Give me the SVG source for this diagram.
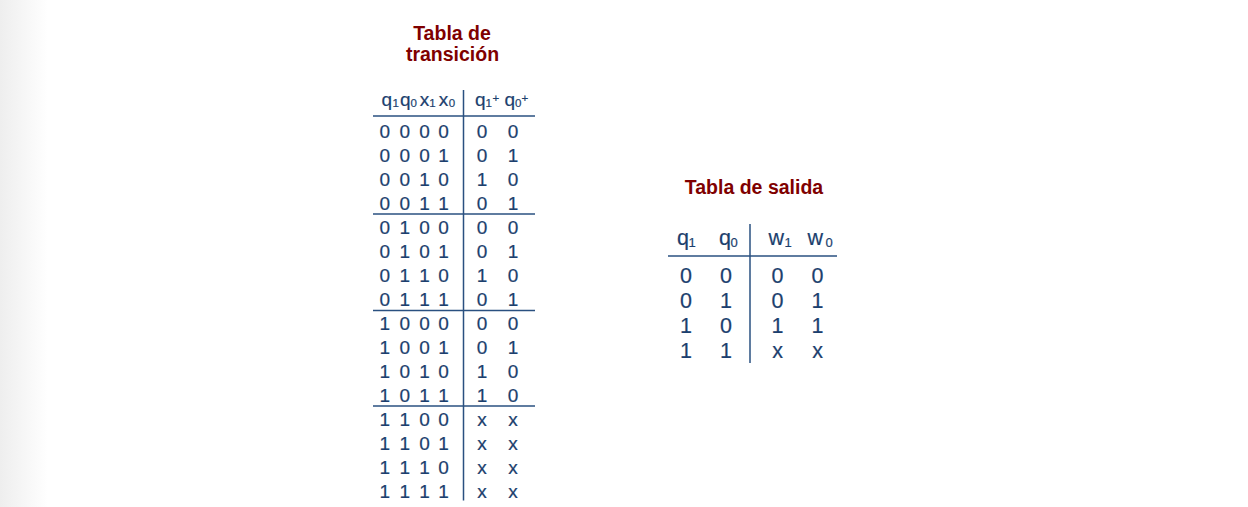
<svg xmlns="http://www.w3.org/2000/svg" width="1248" height="507" viewBox="0 0 1248 507">
<defs>
<linearGradient id="edge" x1="0" y1="0" x2="1" y2="0">
<stop offset="0" stop-color="#eeeeee"/>
<stop offset="1" stop-color="#ffffff"/>
</linearGradient>
</defs>
<style>
.t{font-family:"Liberation Sans",Arial,sans-serif;fill:#1c3f6e;stroke:#1c3f6e;stroke-width:0.2}
.d{font-size:19px;text-anchor:middle}
.h{font-size:19px}
.s{font-size:11.5px}
.d2{font-size:21.5px;text-anchor:middle}
.h2{font-size:21.5px}
.s2{font-size:13px}
.title{font-family:"Liberation Sans",Arial,sans-serif;font-weight:bold;font-size:19.5px;fill:#7f0000;text-anchor:middle}
.ln{stroke:#2a5080;stroke-width:1.5;fill:none}
</style>
<rect width="1248" height="507" fill="#ffffff"/>
<rect width="48" height="507" fill="url(#edge)"/>

<g id="transition-table">
<text class="title" x="452" y="40">Tabla de</text>
<text class="title" x="452.5" y="60.5">transición</text>
<g id="transition-header" class="t">
<text class="h" x="381.5" y="105.5">q</text><text class="s" x="392.4" y="107">1</text>
<text class="h" x="400" y="105.5">q</text><text class="s" x="410.6" y="107">0</text>
<text class="h" x="419.8" y="105.5">x</text><text class="s" x="429.3" y="107">1</text>
<text class="h" x="438.8" y="105.5">x</text><text class="s" x="448.8" y="107">0</text>
<text class="h" x="474.9" y="105.5">q</text><text class="s" x="485.6" y="107">1</text><text class="s" x="492.6" y="101.8">+</text>
<text class="h" x="504.4" y="105.5">q</text><text class="s" x="515" y="107">0</text><text class="s" x="521.6" y="101.8">+</text>
</g>
<g id="transition-rows" class="t d">
<text y="137.5"><tspan x="384.7">0</tspan><tspan x="404.7">0</tspan><tspan x="424.5">0</tspan><tspan x="443.5">0</tspan><tspan x="482">0</tspan><tspan x="513">0</tspan></text>
<text y="161.5"><tspan x="384.7">0</tspan><tspan x="404.7">0</tspan><tspan x="424.5">0</tspan><tspan x="443.5">1</tspan><tspan x="482">0</tspan><tspan x="513">1</tspan></text>
<text y="185.5"><tspan x="384.7">0</tspan><tspan x="404.7">0</tspan><tspan x="424.5">1</tspan><tspan x="443.5">0</tspan><tspan x="482">1</tspan><tspan x="513">0</tspan></text>
<text y="209.5"><tspan x="384.7">0</tspan><tspan x="404.7">0</tspan><tspan x="424.5">1</tspan><tspan x="443.5">1</tspan><tspan x="482">0</tspan><tspan x="513">1</tspan></text>
<text y="233.5"><tspan x="384.7">0</tspan><tspan x="404.7">1</tspan><tspan x="424.5">0</tspan><tspan x="443.5">0</tspan><tspan x="482">0</tspan><tspan x="513">0</tspan></text>
<text y="257.5"><tspan x="384.7">0</tspan><tspan x="404.7">1</tspan><tspan x="424.5">0</tspan><tspan x="443.5">1</tspan><tspan x="482">0</tspan><tspan x="513">1</tspan></text>
<text y="281.5"><tspan x="384.7">0</tspan><tspan x="404.7">1</tspan><tspan x="424.5">1</tspan><tspan x="443.5">0</tspan><tspan x="482">1</tspan><tspan x="513">0</tspan></text>
<text y="305.5"><tspan x="384.7">0</tspan><tspan x="404.7">1</tspan><tspan x="424.5">1</tspan><tspan x="443.5">1</tspan><tspan x="482">0</tspan><tspan x="513">1</tspan></text>
<text y="329.5"><tspan x="384.7">1</tspan><tspan x="404.7">0</tspan><tspan x="424.5">0</tspan><tspan x="443.5">0</tspan><tspan x="482">0</tspan><tspan x="513">0</tspan></text>
<text y="353.5"><tspan x="384.7">1</tspan><tspan x="404.7">0</tspan><tspan x="424.5">0</tspan><tspan x="443.5">1</tspan><tspan x="482">0</tspan><tspan x="513">1</tspan></text>
<text y="377.5"><tspan x="384.7">1</tspan><tspan x="404.7">0</tspan><tspan x="424.5">1</tspan><tspan x="443.5">0</tspan><tspan x="482">1</tspan><tspan x="513">0</tspan></text>
<text y="401.5"><tspan x="384.7">1</tspan><tspan x="404.7">0</tspan><tspan x="424.5">1</tspan><tspan x="443.5">1</tspan><tspan x="482">1</tspan><tspan x="513">0</tspan></text>
<text y="425.5"><tspan x="384.7">1</tspan><tspan x="404.7">1</tspan><tspan x="424.5">0</tspan><tspan x="443.5">0</tspan><tspan x="482">x</tspan><tspan x="513">x</tspan></text>
<text y="449.5"><tspan x="384.7">1</tspan><tspan x="404.7">1</tspan><tspan x="424.5">0</tspan><tspan x="443.5">1</tspan><tspan x="482">x</tspan><tspan x="513">x</tspan></text>
<text y="473.5"><tspan x="384.7">1</tspan><tspan x="404.7">1</tspan><tspan x="424.5">1</tspan><tspan x="443.5">0</tspan><tspan x="482">x</tspan><tspan x="513">x</tspan></text>
<text y="497.5"><tspan x="384.7">1</tspan><tspan x="404.7">1</tspan><tspan x="424.5">1</tspan><tspan x="443.5">1</tspan><tspan x="482">x</tspan><tspan x="513">x</tspan></text>
</g>
<g id="transition-lines" class="ln">
<line x1="373" y1="116" x2="535" y2="116"/>
<line x1="373" y1="214" x2="535" y2="214"/>
<line x1="373" y1="310.5" x2="535" y2="310.5"/>
<line x1="373" y1="406" x2="535" y2="406"/>
<line x1="463.5" y1="90" x2="463.5" y2="500.5"/>
</g>
</g>

<g id="output-table">
<text class="title" x="754" y="194">Tabla de salida</text>
<g id="output-header" class="t">
<text class="h2" x="677" y="245">q</text><text class="s2" x="688.5" y="247">1</text>
<text class="h2" x="719" y="245">q</text><text class="s2" x="730.5" y="247">0</text>
<text class="h2" x="768.5" y="245">w</text><text class="s2" x="784.5" y="247">1</text>
<text class="h2" x="807.5" y="245">w</text><text class="s2" x="825.5" y="247">0</text>
</g>
<g id="output-rows" class="t d2">
<text y="283"><tspan x="686">0</tspan><tspan x="726">0</tspan><tspan x="777.5">0</tspan><tspan x="817.5">0</tspan></text>
<text y="308"><tspan x="686">0</tspan><tspan x="726">1</tspan><tspan x="777.5">0</tspan><tspan x="817.5">1</tspan></text>
<text y="333"><tspan x="686">1</tspan><tspan x="726">0</tspan><tspan x="777.5">1</tspan><tspan x="817.5">1</tspan></text>
<text y="358"><tspan x="686">1</tspan><tspan x="726">1</tspan><tspan x="777.5">x</tspan><tspan x="817.5">x</tspan></text>
</g>
<g id="output-lines" class="ln">
<line x1="668" y1="256" x2="837" y2="256"/>
<line x1="750" y1="224" x2="750" y2="363"/>
</g>
</g>
</svg>
